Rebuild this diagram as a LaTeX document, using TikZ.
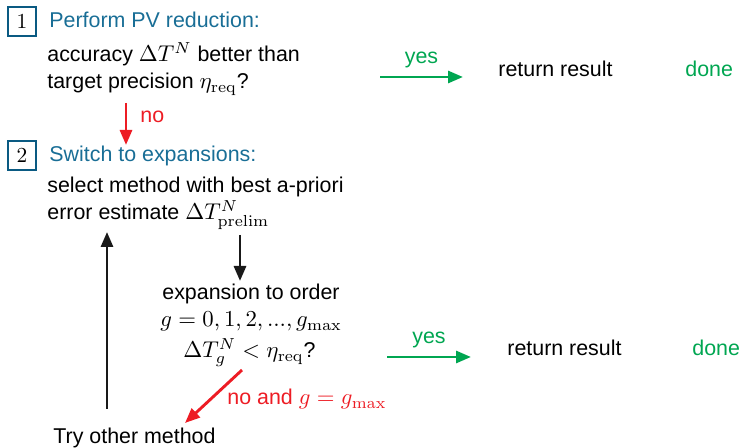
\documentclass[tikz,border=0pt]{standalone}
\usepackage{fix-cm}
\usepackage[no-math]{fontspec}
\setmainfont{Liberation Sans}
\usetikzlibrary{arrows.meta}
\definecolor{tblue}{RGB}{25,110,150}
\definecolor{bblue}{RGB}{10,90,130}
\definecolor{tgreen}{RGB}{0,166,81}
\definecolor{tred}{RGB}{237,28,36}
\newcommand\mth[1]{{\fontsize{11.4}{13}\selectfont$#1$}}
\begin{document}
\begin{tikzpicture}[x=0.5pt,y=-0.5pt,
 txt/.style={anchor=base west, inner sep=0pt, font=\fontsize{10.7}{13}\selectfont},
 numbox/.style={draw=bblue, line width=1pt, minimum width=14pt, minimum height=14.5pt, inner sep=0pt, font=\fontsize{10.7}{13}\selectfont},
 arr/.style={line width=1.45pt, -{Triangle[length=7.5pt,width=6pt]}},
]
\useasboundingbox (0,0) rectangle (741,448);

\node[numbox] (b1) at (22,22) {$1$};
\node[txt, text=tblue] (t1) at (49,28) {Perform PV reduction:};
\node[txt] (q1a) at (47,62) {accuracy \mth{\Delta T^N} better than};
\node[txt] (q1b) at (47,89) {target precision \mth{\eta_{\rm req}}?};

\node[numbox] (b2) at (22,156) {$2$};
\node[txt, text=tblue] (t2) at (49,162) {Switch to expansions:};
\node[txt] (s2a) at (47,193) {select method with best a-priori};
\node[txt] (s2b) at (47,220) {error estimate \mth{\Delta T^N_{\rm prelim}}};

\node[txt] (e1) at (162,300) {expansion to order};
\node[txt] (e2) at (160,327) {\mth{g=0,1,2,...,g_{\max}}};
\node[txt] (e3) at (183,358) {\mth{\Delta T_g^N<\eta_{\rm req}}?};

\node[txt] (try) at (53,444) {Try other method};

\node[txt] (r1) at (498,77) {return result};
\node[txt, text=tgreen] (d1) at (685,77) {done};
\node[txt] (r2) at (507,356) {return result};
\node[txt, text=tgreen] (d2) at (692,356) {done};

\coordinate (g1s) at (380,77); \coordinate (g1e) at (463,77);
\coordinate (g2s) at (387,357); \coordinate (g2e) at (471,357);
\coordinate (n1s) at (126,103); \coordinate (n1e) at (126,145);
\coordinate (ds) at (240,235); \coordinate (de) at (240,281);
\coordinate (n2s) at (242,370); \coordinate (n2e) at (185,423);
\coordinate (us) at (107,409); \coordinate (ue) at (107,232);

\draw[arr, tgreen] (g1s) -- node[midway, above=4pt, inner sep=0pt, font=\fontsize{10.7}{13}\selectfont] (y1) {yes} (g1e);
\draw[arr, tgreen] (g2s) -- node[midway, above=4pt, inner sep=0pt, font=\fontsize{10.7}{13}\selectfont] (y2) {yes} (g2e);
\draw[arr, tred] (n1s) -- (n1e);
\node[txt, text=tred] (no1) at (140,123) {no};
\draw[arr, black!90] (ds) -- (de);
\draw[arr, tred] (n2s) -- (n2e);
\node[txt, text=tred] (no2) at (227,405) {no and \mth{g=g_{\max}}};
\draw[arr, black!90] (us) -- (ue);
\end{tikzpicture}
\end{document}
